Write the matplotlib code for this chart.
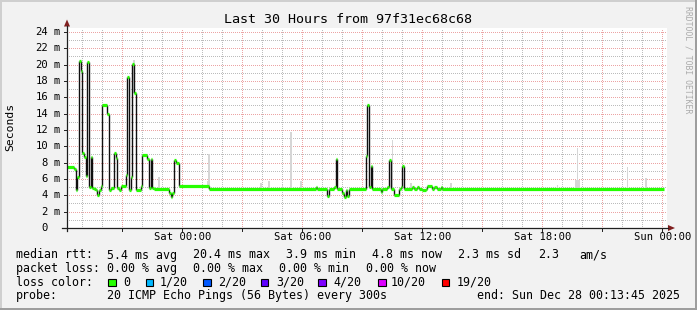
import matplotlib
matplotlib.use('Agg')
import matplotlib.pyplot as plt
from matplotlib.patches import Rectangle, Polygon
from matplotlib.lines import Line2D
import matplotlib.transforms as mtransforms

W, H = 697, 310

# ---------------- data (minutes relative to Sat 00:00, RTT in ms) -------------
med_t = [-345, -325, -320, -315, -310, -305, -300, -295, -290, -285, -280, -275,
         -270, -265, -260, -255, -250, -245, -240, -225, -220, -215, -205, -200,
         -195, -190, -185, -170, -165, -160, -155, -150, -145, -140, -125, -120,
         -105, -100, -95, -90, -85, -40, -35, -30, -25, -20, -10, 80,
         400, 405, 435, 440, 455, 460, 465, 480, 485, 490, 495, 500,
         550, 555, 560, 565, 570, 595, 600, 615, 620, 625, 635, 650, 655, 660, 665,
         690, 695, 705, 710, 720, 730, 735, 750, 755, 765, 775, 780]
med_ms = [7.5, 7.2, 4.65, 6.3, 20.4, 19.2, 9.2, 8.7, 6.4, 20.3, 5.0, 8.7,
          4.9, 4.75, 4.65, 4.0, 4.65, 5.2, 15.1, 14.0, 4.65, 4.9, 9.2, 8.6,
          4.9, 4.65, 5.1, 6.5, 18.5, 4.65, 6.2, 20.1, 16.5, 4.65, 5.2, 8.9,
          8.5, 4.9, 8.5, 4.9, 4.75, 4.25, 3.85, 4.25, 8.3, 7.9, 5.14, 4.75,
          5.0, 4.75, 3.9, 4.75, 5.0, 8.4, 4.75, 4.25, 3.85, 4.6, 3.9, 4.75,
          8.8, 15.05, 4.97, 7.6, 4.75, 4.4, 4.75, 5.0, 8.3, 4.8, 4.0, 4.75, 5.0, 7.6, 4.75,
          5.0, 4.75, 5.0, 4.75, 4.6, 4.75, 5.14, 4.75, 5.0, 4.75, 5.0, 4.75]
data_end = 1445

smoke_t = [-145, -70, 75, 80, 235, 260, 300, 325, 355, 630, 685, 805, 1125,
           1180, 1185, 1190, 1335, 1390]
smoke_lo = [16.5, 4.75, 5.1, 4.75, 4.75, 4.75, 4.75, 4.75, 4.75, 4.75, 4.75, 4.75, 4.75,
            4.75, 4.75, 4.75, 4.75, 4.75]
smoke_hi = [20.6, 6.3, 5.7, 9.1, 5.5, 5.7, 5.3, 11.8, 5.7, 10.8, 5.5, 5.5, 5.3,
            5.9, 9.75, 5.9, 7.5, 6.1]

t_start, t_end = -346.25, 1453.75      # Fri 18:13:45 .. Sun 00:13:45
xtick_pos = [0, 360, 720, 1080, 1440]
xtick_lab = ['Sat 00:00', 'Sat 06:00', 'Sat 12:00', 'Sat 18:00', 'Sun 00:00']
ytick_vals = [0, 2, 4, 6, 8, 10, 12, 14, 16, 18, 20, 22, 24]

legend_rows = [
    [(16, 'median rtt:'), (107.3, '5.4 ms avg'), (193.3, '20.4 ms max'),
     (286, '3.9 ms min'), (371.7, '4.8 ms now'), (458.3, '2.3 ms sd'),
     (537.7, '2.3'), (579.3, 'am/s')],
    [(16, 'packet loss:'), (107.3, '0.00 % avg'), (193.3, '0.00 % max'),
     (279.3, '0.00 % min'), (366, '0.00 % now')],
]
loss_labels = ['0', '1/20', '2/20', '3/20', '4/20', '10/20', '19/20']
loss_colors = ['#26ff00', '#00b8ff', '#0059ff', '#5e00ff', '#7e00ff', '#dd00ff', '#ff0000']
loss_box_x = [108.3, 145.7, 203.3, 260.7, 318.3, 378.3, 441.7]
loss_lab_x = [123.3, 160, 217.7, 276, 333.5, 391, 456.7]

MONO = 'DejaVu Sans Mono'
BG = '#f2f2f2'

fig = plt.figure(figsize=(W / 100, H / 100), dpi=100, facecolor=BG)
px = mtransforms.Affine2D().scale(1 / W, -1 / H).translate(0, 1) + fig.transFigure

# 3-D border
fig.patches.append(Rectangle((0, 0), W, 2, transform=px, color='#cfcfcf', lw=0))
fig.patches.append(Rectangle((0, 0), 2, H, transform=px, color='#cfcfcf', lw=0))
fig.patches.append(Rectangle((0, H - 2), W, 2, transform=px, color='#9e9e9e', lw=0))
fig.patches.append(Rectangle((W - 2, 0), 2, H, transform=px, color='#9e9e9e', lw=0))

ax_l, ax_r, ax_b, ax_t = 67, 667, 228, 28
ax = fig.add_axes([ax_l / W, 1 - ax_b / H, (ax_r - ax_l) / W, (ax_b - ax_t) / H])
ax.set_facecolor('white')
ax.set_xlim(t_start, t_end)
ax.set_ylim(0, (ax_b - ax_t) / 8.17)
for s in ax.spines.values():
    s.set_visible(False)
ax.set_xticks([])
ax.set_yticks([])

# grid
dot = (0, (1, 2))
MINOR = '#bcbcbc'
MAJOR = '#eca4a4'
t = -300
while t <= t_end:
    major = (t % 180 == 0)
    ax.axvline(t, color=MAJOR if major else MINOR, lw=0.72, ls=dot,
               zorder=1 if major else 0.5, antialiased=False)
    t += 60
for v in range(1, 25):
    major = (v % 2 == 0)
    ax.axhline(v, color=MAJOR if major else MINOR, lw=0.72, ls=dot,
               zorder=1 if major else 0.5, antialiased=False)

# smoke
ax.bar(smoke_t, [h - l for h, l in zip(smoke_hi, smoke_lo)], bottom=smoke_lo,
       width=5, color='#d6d6d6', lw=0, zorder=2)

# median line: black verticals, loss-coloured horizontals
tt = med_t + [data_end]
for i in range(1, len(med_t)):
    ax.vlines(med_t[i], med_ms[i - 1], med_ms[i], color='#101010', lw=1.0, zorder=3)
for i in range(len(med_t)):
    ax.hlines(med_ms[i], tt[i], tt[i + 1], color=loss_colors[0], lw=2.3, zorder=4,
              capstyle='butt')

# axes lines + arrows
fig.lines.append(Line2D([62, 668], [228, 228], transform=px, color='#1f1f1f', lw=0.9))
fig.lines.append(Line2D([67, 67], [231, 26], transform=px, color='#1f1f1f', lw=0.9))
fig.patches.append(Polygon([(668, 225), (675, 228), (668, 231)], closed=True,
                           transform=px, color='#801f1f', lw=0))
fig.patches.append(Polygon([(64, 26.5), (67, 19.5), (70, 26.5)], closed=True,
                           transform=px, color='#801f1f', lw=0))

# tick marks
bx = mtransforms.blended_transform_factory(ax.transData, px)
by = mtransforms.blended_transform_factory(px, ax.transData)
t = -180
while t <= t_end:
    fig.lines.append(Line2D([t, t], [228, 231], transform=bx, color='#1f1f1f', lw=0.7))
    t += 180
for v in ytick_vals:
    fig.lines.append(Line2D([64, 67], [v, v], transform=by, color='#1f1f1f', lw=0.7))

# tick labels
for pos, lab in zip(xtick_pos, xtick_lab):
    fig.text(pos, 237.5, lab, transform=bx, ha='center', va='center',
             family=MONO, fontsize=7.6, color='black')
for v in ytick_vals:
    fig.text(48, v, str(v), transform=by, ha='right', va='center',
             family=MONO, fontsize=7.6, color='black')
    if v != 0:
        fig.text(53.5, v, 'm', transform=by, ha='left', va='center',
                 family=MONO, fontsize=7.6, color='black')

# title, y label, watermark
fig.text(348, 19.5, 'Last 30 Hours from 97f31ec68c68', transform=px, ha='center',
         va='center', family=MONO, fontsize=9.6, color='black')
fig.text(10.5, 127, 'Seconds', transform=px, ha='center', va='center', rotation=90,
         family=MONO, fontsize=8.2, color='black')
fig.text(688, 60, 'RRDTOOL / TOBI OETIKER', transform=px, ha='center', va='center',
         rotation=270, family=MONO, fontsize=5.9, color='#ababab')

# legend
row_y = [255, 268.5, 282.3, 295.8]
for y, row in zip(row_y[:2], legend_rows):
    for x, s in row:
        fig.text(x, y, s, transform=px, ha='left', va='center', family=MONO,
                 fontsize=8.4, color='black')
fig.text(16, row_y[2], 'loss color:', transform=px, ha='left', va='center',
         family=MONO, fontsize=8.4, color='black')
for bxp, lx, lab, col in zip(loss_box_x, loss_lab_x, loss_labels, loss_colors):
    fig.patches.append(Rectangle((bxp, 278.5), 7.5, 7.5, transform=px,
                                 facecolor=col, edgecolor='black', lw=0.8))
    fig.text(lx, row_y[2], lab, transform=px, ha='left', va='center', family=MONO,
             fontsize=8.4, color='black')
fig.text(16, row_y[3], 'probe:', transform=px, ha='left', va='center', family=MONO,
         fontsize=8.4, color='black')
fig.text(107.3, row_y[3], '20 ICMP Echo Pings (56 Bytes) every 300s', transform=px,
         ha='left', va='center', family=MONO, fontsize=8.4, color='black')
fig.text(680, row_y[3], 'end: Sun Dec 28 00:13:45 2025', transform=px, ha='right',
         va='center', family=MONO, fontsize=8.4, color='black')

fig.savefig('out.png', dpi=100, facecolor=BG)
